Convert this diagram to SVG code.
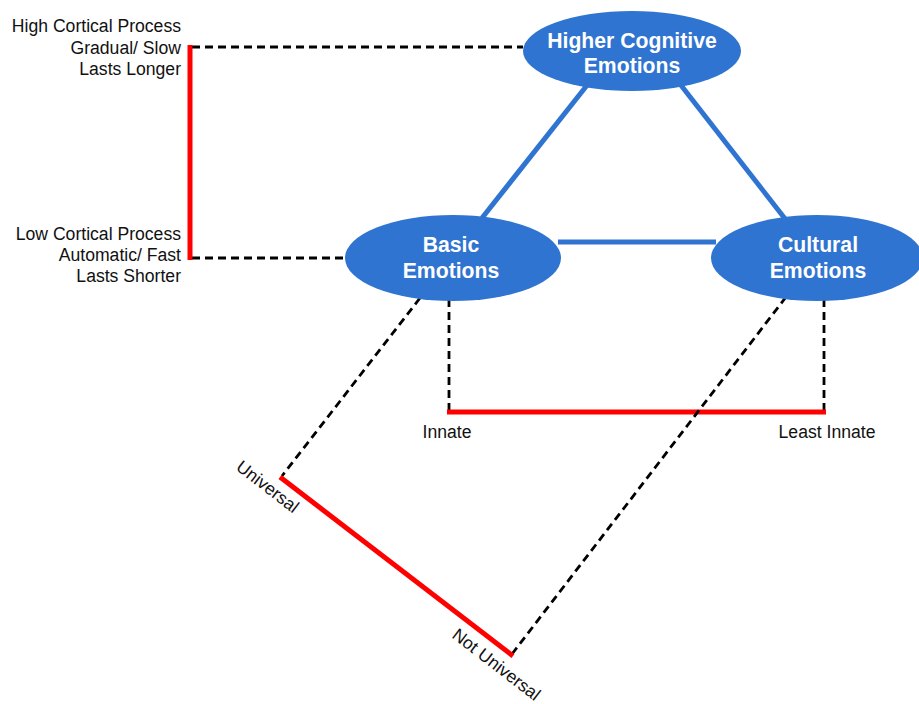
<svg xmlns="http://www.w3.org/2000/svg" width="919" height="704" viewBox="0 0 919 704">
<style>
.node{fill:#2F74D1;}
.nl{font-family:"Liberation Sans",Arial,sans-serif;font-weight:bold;font-size:21.2px;fill:#fff;text-anchor:middle;}
.lbl{font-family:"Liberation Sans",Arial,sans-serif;font-size:17.6px;fill:#111;}
.blue{stroke:#2F74D1;stroke-width:5;fill:none;}
.red{stroke:#FF0000;stroke-width:5;fill:none;}
.dash{stroke:#000;stroke-width:2.8;stroke-dasharray:8,5;fill:none;}
</style>
<rect width="919" height="704" fill="#fff"/>
<g id="connectors">
<line class="blue" x1="588" y1="84" x2="482" y2="218"/>
<line class="blue" x1="680" y1="84" x2="786" y2="220"/>
<line class="blue" x1="558" y1="242" x2="716" y2="242"/>
<line class="dash" x1="192" y1="47" x2="523" y2="47"/>
<line class="dash" x1="192" y1="258" x2="345" y2="258"/>
<line class="red" x1="190" y1="45" x2="190" y2="260"/>
<line class="dash" x1="449" y1="299" x2="449" y2="410"/>
<line class="dash" x1="824" y1="299" x2="824" y2="410"/>
<line class="red" x1="447" y1="412" x2="826" y2="412"/>
<line class="dash" x1="420" y1="298" x2="282" y2="476"/>
<line class="dash" x1="786" y1="297" x2="512" y2="654"/>
<line class="red" x1="280" y1="477" x2="513" y2="656"/>
</g>
<g id="higher">
<ellipse class="node" cx="632" cy="51" rx="109" ry="40"/>
<text class="nl" x="632" y="48">Higher Cognitive</text>
<text class="nl" x="632" y="73">Emotions</text>
</g>
<g id="basic">
<ellipse class="node" cx="453" cy="258" rx="108" ry="43"/>
<text class="nl" x="451" y="252">Basic</text>
<text class="nl" x="451" y="278">Emotions</text>
</g>
<g id="cultural">
<ellipse class="node" cx="817" cy="258" rx="106" ry="43"/>
<text class="nl" x="818" y="252">Cultural</text>
<text class="nl" x="818" y="278">Emotions</text>
</g>
<g id="labels">
<g text-anchor="end">
<text class="lbl" x="181" y="32">High Cortical Process</text>
<text class="lbl" x="181" y="54">Gradual/ Slow</text>
<text class="lbl" x="181" y="75">Lasts Longer</text>
<text class="lbl" x="181" y="240">Low Cortical Process</text>
<text class="lbl" x="181" y="261">Automatic/ Fast</text>
<text class="lbl" x="181" y="282">Lasts Shorter</text>
</g>
<text class="lbl" x="447" y="438" text-anchor="middle">Innate</text>
<text class="lbl" x="827" y="438" text-anchor="middle">Least Innate</text>
<text class="lbl" transform="translate(235,469) rotate(37.6)">Universal</text>
<text class="lbl" transform="translate(451,637) rotate(37.6)">Not Universal</text>
</g>
</svg>
